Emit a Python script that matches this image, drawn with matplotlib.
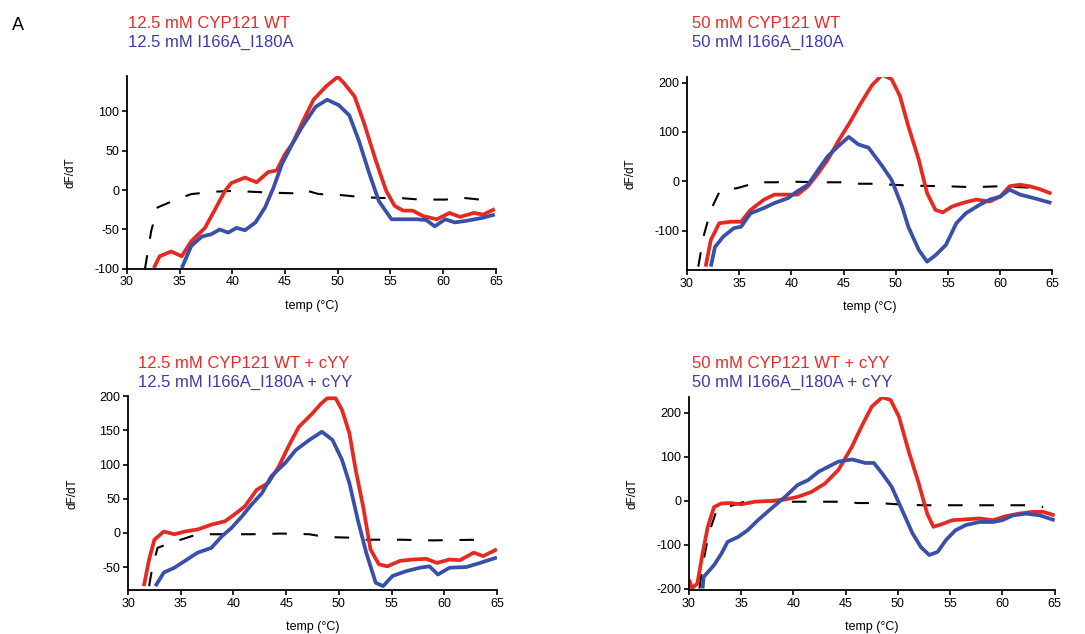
import matplotlib.pyplot as plt

plt.rcParams['font.family'] = ['Liberation Sans', 'DejaVu Sans']
plt.rcParams['axes.unicode_minus'] = False

RED = '#e52a22'
BLUE = '#3a50a8'
RED_TXT = '#e52a2a'
BLUE_TXT = '#3c3ca6'

# panel 1: 12.5 mM
p1_wt_t = [32.55, 33.1, 34.2, 35.2, 36.1, 37.4, 38.3, 39.3, 39.9, 41.2, 42.3, 43.4, 44.2, 45.0, 45.7, 46.6,
           47.7, 48.9, 50.0, 50.6, 51.6, 52.5, 53.6, 54.6, 55.4, 56.2, 57.1, 58.1, 59.4, 60.6, 61.6, 62.9, 63.8, 64.9]
p1_wt_v = [-99, -84, -78, -84, -65, -48, -26, -1, 9, 16, 10, 23, 25, 46, 59, 85,
           115, 132, 144, 136, 119, 85, 38, -1, -20, -26, -26, -33, -37, -29, -34, -29, -31, -24]
p1_mut_t = [35.2, 36.1, 37.1, 38.0, 38.8, 39.6, 40.4, 41.2, 42.2, 43.1, 43.9, 44.7, 45.7, 46.6, 47.9, 49.0,
            50.1, 51.1, 52.0, 53.0, 53.9, 55.1, 56.2, 57.5, 58.4, 59.2, 60.2, 61.1, 62.2, 63.8, 64.9]
p1_mut_v = [-99, -71, -59, -56, -50, -54, -48, -51, -41, -22, 3, 33, 59, 80, 106, 115,
            108, 95, 63, 21, -14, -37, -37, -37, -38, -46, -37, -41, -39, -35, -31]
p1_ref_t = [31.7, 32.3, 32.9, 34.5, 36.1, 38.3, 39.9, 41.8, 43.4, 45.7, 46.6, 48.2, 50.1, 52.4, 54.3, 55.9,
            57.8, 60.3, 61.3, 63.5, 64.9]
p1_ref_v = [-101, -52, -22, -13, -5, -2, -1, -2, -3, -4, 1, -5, -6, -9, -10, -10, -12, -12, -9, -12, -9]

# panel 2: 50 mM
p2_wt_t = [31.8, 32.3, 33.1, 34.2, 35.2, 36.1, 37.4, 38.4, 39.7, 40.6, 41.6, 42.6, 43.5, 44.6, 45.6, 46.6,
           47.7, 48.7, 49.6, 50.4, 51.2, 52.2, 53.0, 53.8, 54.5, 55.4, 56.4, 57.7, 59.0, 60.0, 60.9, 61.9,
           62.8, 63.8, 64.9]
p2_wt_v = [-173, -119, -85, -82, -82, -58, -37, -27, -27, -27, -10, 17, 44, 85, 119, 156,
           194, 216, 207, 173, 112, 44, -24, -58, -63, -51, -44, -37, -41, -31, -10, -7,
           -10, -16, -25]
p2_mut_t = [32.3, 32.7, 33.5, 34.5, 35.2, 36.1, 37.4, 38.4, 39.7, 40.6, 41.6, 42.6, 43.5, 44.5, 45.5, 46.4,
            47.4, 48.7, 49.6, 50.6, 51.2, 52.2, 53.0, 53.8, 54.8, 55.8, 56.7, 58.0, 59.0, 60.0, 60.9, 61.9,
            63.2, 64.9]
p2_mut_v = [-173, -133, -112, -95, -92, -65, -54, -44, -34, -20, -7, 24, 51, 71, 90, 75,
            68, 31, 3, -51, -92, -139, -163, -150, -129, -85, -65, -48, -37, -31, -17, -27,
            -34, -44]
p2_ref_t = [31.1, 31.6, 32.3, 33.2, 34.8, 36.8, 38.4, 40.6, 42.6, 44.8, 46.1, 48.4, 49.6, 51.9, 54.8, 57.4,
            60.0, 61.9, 64.1]
p2_ref_v = [-173, -112, -58, -18, -14, -2, -2, -1, -2, -2, -5, -5, -7, -9, -10, -12, -10, -12, -14]

# panel 3: 12.5 mM + cYY
p3_wt_t = [31.5, 32.0, 32.5, 33.4, 34.4, 35.4, 36.6, 37.9, 39.2, 40.1, 41.1, 42.2, 43.3, 44.3, 45.2, 46.2,
           47.5, 48.3, 48.9, 49.7, 50.3, 51.0, 51.6, 52.3, 53.0, 53.8, 54.6, 55.8, 57.0, 58.3, 59.3, 60.5,
           61.5, 62.8, 63.7, 65.0]
p3_wt_v = [-78, -39, -10, 2, -2, 2, 5, 12, 17, 27, 39, 63, 73, 97, 126, 155,
           175, 189, 197, 197, 180, 146, 92, 39, -24, -46, -49, -41, -39, -38, -44, -39,
           -40, -29, -34, -24]
p3_mut_t = [32.6, 33.4, 34.4, 35.4, 36.6, 37.9, 38.9, 39.8, 40.8, 41.7, 42.7, 43.6, 44.9, 45.9, 47.2, 48.4,
            49.4, 50.3, 51.0, 51.8, 52.6, 53.5, 54.2, 55.1, 56.4, 57.7, 58.6, 59.4, 60.5, 62.1, 63.4, 65.0]
p3_mut_v = [-78, -58, -51, -41, -29, -22, -5, 7, 24, 41, 58, 83, 102, 121, 136, 148,
            136, 107, 73, 19, -29, -73, -78, -63, -56, -51, -49, -61, -51, -50, -44, -36]
p3_ref_t = [32.0, 32.3, 32.8, 33.8, 36.6, 39.8, 41.7, 44.6, 47.2, 48.7, 51.0, 52.6, 55.8, 58.9, 63.4]
p3_ref_v = [-78, -51, -22, -16, -2, -2, -2, -1, -2, -6, -7, -10, -10, -11, -10]

# panel 4: 50 mM + cYY
p4_wt_t = [30.0, 30.3, 30.8, 31.3, 31.8, 32.4, 33.1, 34.0, 35.0, 36.3, 37.9, 39.2, 40.4, 41.7, 43.0, 44.3,
           45.6, 46.5, 47.5, 48.5, 49.3, 50.1, 51.0, 52.0, 52.8, 53.4, 54.2, 55.2, 56.5, 57.8, 59.1, 60.3,
           61.6, 62.9, 63.9, 65.0]
p4_wt_v = [-179, -198, -188, -120, -59, -14, -6, -5, -8, -2, 0, 3, 9, 20, 39, 70,
           123, 168, 214, 235, 229, 191, 115, 39, -29, -59, -53, -44, -42, -40, -44, -35,
           -29, -25, -25, -33]
p4_mut_t = [31.3, 31.4, 32.4, 33.1, 33.7, 34.7, 35.6, 36.6, 37.9, 39.2, 40.4, 41.4, 42.4, 43.3, 44.3, 45.6,
            46.9, 47.7, 48.5, 49.4, 50.4, 51.4, 52.2, 53.0, 53.8, 54.6, 55.5, 56.5, 57.8, 59.1, 60.0, 61.0,
            62.3, 63.6, 65.0]
p4_mut_v = [-199, -173, -146, -120, -93, -82, -67, -44, -17, 9, 36, 47, 66, 77, 89, 94,
            86, 86, 62, 32, -21, -74, -105, -123, -116, -89, -67, -55, -48, -48, -44, -33,
            -29, -33, -44]
p4_ref_t = [31.0, 31.4, 31.9, 32.6, 33.4, 35.3, 37.9, 39.8, 42.0, 44.6, 46.2, 48.1, 50.1, 52.3, 55.5, 58.7,
            62.9, 63.9]
p4_ref_v = [-199, -135, -74, -25, -16, -2, -1, -2, -2, -2, -5, -5, -8, -10, -10, -10, -10, -14]

panels = [
    dict(rect=[0.117, 0.576, 0.340, 0.304], ylim=(-100, 145), yticks=[-100, -50, 0, 50, 100],
         wt=(p1_wt_t, p1_wt_v), mut=(p1_mut_t, p1_mut_v), ref=(p1_ref_t, p1_ref_v),
         titles=('12.5 mM CYP121 WT', '12.5 mM I166A_I180A'), tpos=(128, 23)),
    dict(rect=[0.633, 0.574, 0.337, 0.305], ylim=(-180, 212), yticks=[-100, 0, 100, 200],
         wt=(p2_wt_t, p2_wt_v), mut=(p2_mut_t, p2_mut_v), ref=(p2_ref_t, p2_ref_v),
         titles=('50 mM CYP121 WT', '50 mM I166A_I180A'), tpos=(692, 23)),
    dict(rect=[0.118, 0.069, 0.340, 0.306], ylim=(-84, 200), yticks=[-50, 0, 50, 100, 150, 200],
         wt=(p3_wt_t, p3_wt_v), mut=(p3_mut_t, p3_mut_v), ref=(p3_ref_t, p3_ref_v),
         titles=('12.5 mM CYP121 WT + cYY', '12.5 mM I166A_I180A + cYY'), tpos=(138, 363)),
    dict(rect=[0.635, 0.069, 0.337, 0.305], ylim=(-203, 236), yticks=[-200, -100, 0, 100, 200],
         wt=(p4_wt_t, p4_wt_v), mut=(p4_mut_t, p4_mut_v), ref=(p4_ref_t, p4_ref_v),
         titles=('50 mM CYP121 WT + cYY', '50 mM I166A_I180A + cYY'), tpos=(692, 363)),
]

W, H = 1085, 634
fig = plt.figure(figsize=(W / 100, H / 100), dpi=100)

for p in panels:
    ax = fig.add_axes(p['rect'])
    ax.plot(*p['ref'], color='black', lw=1.5, dashes=(7, 8))
    ax.plot(*p['wt'], color=RED, lw=2.7, solid_capstyle='butt')
    ax.plot(*p['mut'], color=BLUE, lw=2.7, solid_capstyle='butt')
    ax.set_xlim(30, 65)
    ax.set_ylim(*p['ylim'])
    ax.set_xticks(range(30, 66, 5))
    ax.set_yticks(p['yticks'])
    for s in ['top', 'right']:
        ax.spines[s].set_visible(False)
    for s in ['left', 'bottom']:
        ax.spines[s].set_linewidth(1.3)
    ax.tick_params(direction='out', length=3.5, width=1.2, labelsize=9, pad=2)
    ax.set_xlabel('temp (°C)', fontsize=9)
    ax.set_ylabel('dF/dT', fontsize=8.5)
    hpx = p['rect'][3] * H
    wpx = p['rect'][2] * W
    ax.xaxis.set_label_coords(0.5, -31 / hpx)
    ax.yaxis.set_label_coords(-50 / wpx, 0.5)
    tx, ty = p['tpos']
    fig.text(tx / W, 1 - ty / H, p['titles'][0], color=RED_TXT, fontsize=12, va='center', ha='left')
    fig.text(tx / W, 1 - (ty + 19) / H, p['titles'][1], color=BLUE_TXT, fontsize=12, va='center', ha='left')

fig.text(12 / W, 1 - 25 / H, 'A', fontsize=13, va='center', ha='left')

fig.savefig('out.png', dpi=100)
